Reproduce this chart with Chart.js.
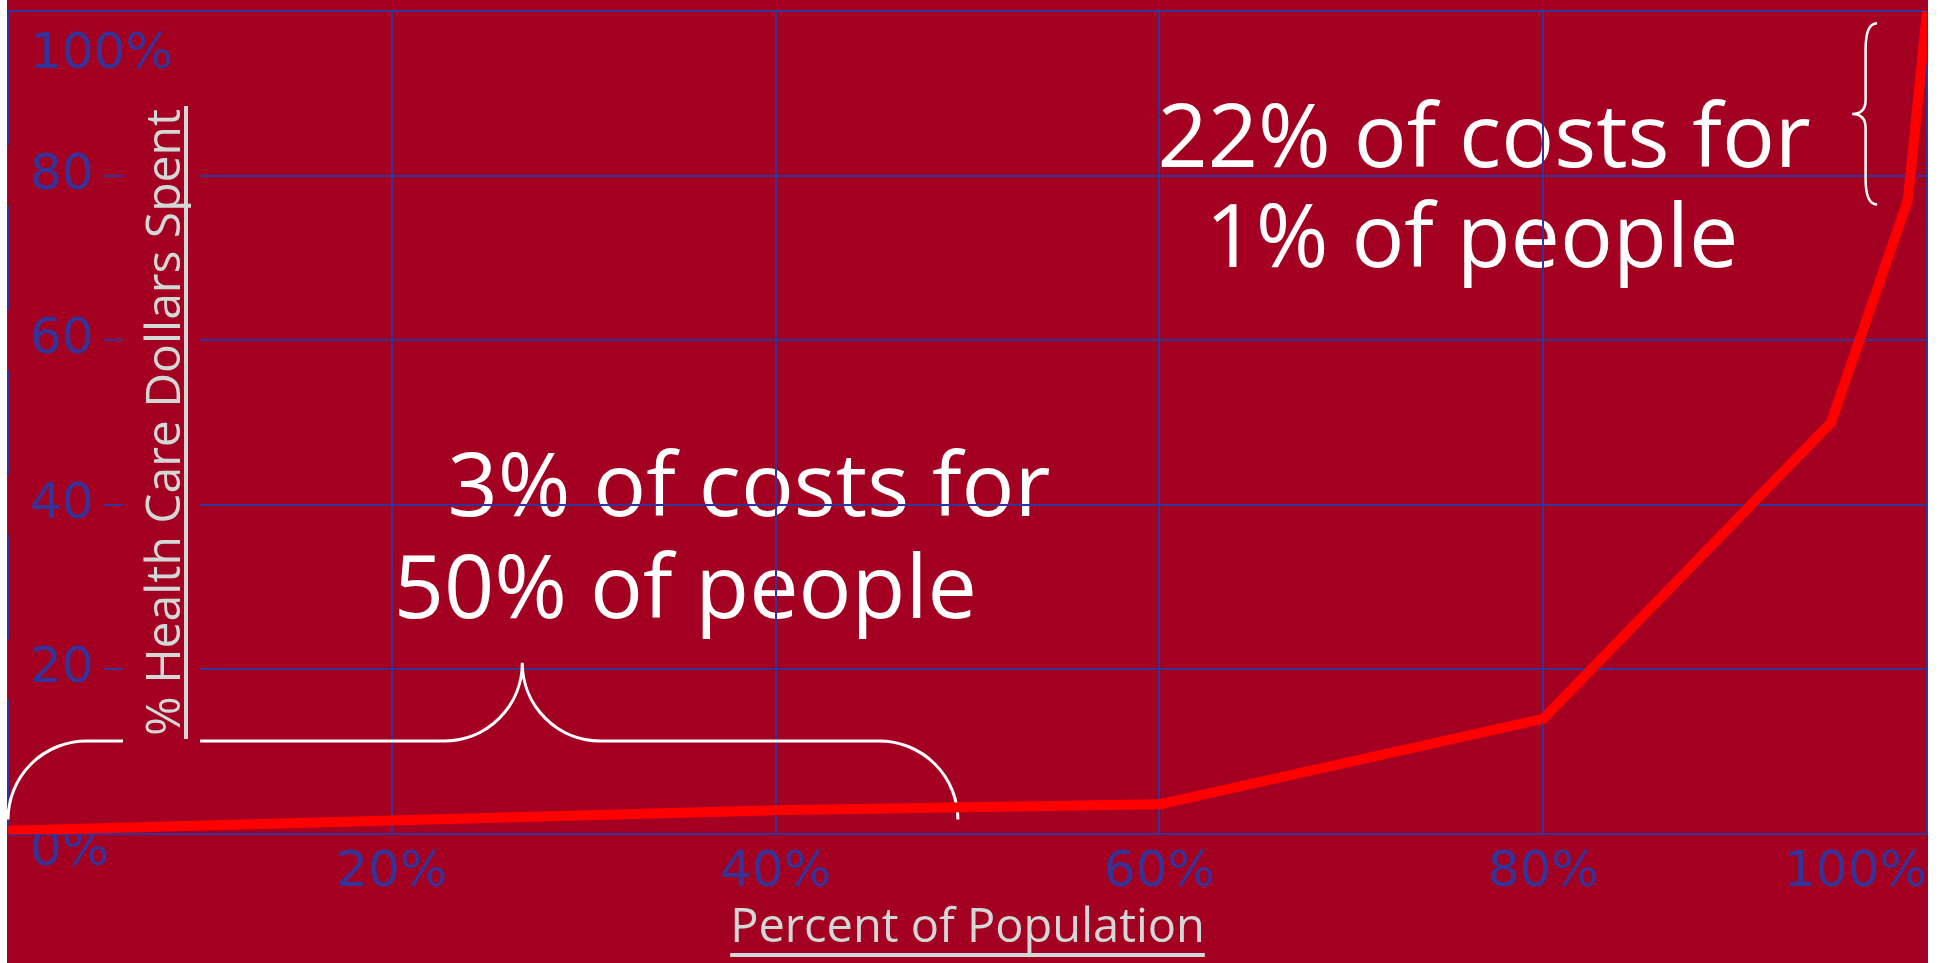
<!DOCTYPE html>
<html>
<head>
<meta charset="utf-8">
<script src="https://cdn.jsdelivr.net/npm/chart.js@4/dist/chart.umd.min.js"></script>
<style>
  html, body { margin: 0; padding: 0; background: #ffffff; overflow: hidden; }
  #wrap { position: absolute; left: 7px; top: 0; width: 1921px; height: 963px; background: #A40022; }
</style>
</head>
<body>
<div id="wrap"><canvas id="c"></canvas></div>
<script>
// ---- data ----
const populationPct = [0, 40, 60, 80, 95, 99, 100];
const costPct = [0.4, 2.9, 3.6, 14, 50, 77, 100];
const xTickLabels = ['', '20%', '40%', '60%', '80%', '100%'];
const yTickLabels = ['0%', '20', '40', '60', '80', '100%'];
const xTitle = 'Percent of Population';
const yTitle = '% Health Care Dollars Spent';
const noteLines = ['22% of costs for', '1% of people', '3% of costs for', '50% of people'];

// ---- style / layout ----
const BG = '#A40022';
const BLUE = '#333399';
const GRAY = '#D2D8D6';
const WHITE = '#FFFFFF';
const HAND = '"Comic Sans MS", "Open Sans", sans-serif';
const TICKF = '"DejaVu Sans", sans-serif';
// annotation anchors in axis units (left edge, baseline)
const noteAnchors = [
  { x: 59.9, y: 81.0 }, { x: 62.4, y: 68.9 },
  { x: 22.9, y: 38.6 }, { x: 20.1, y: 26.2 }
];
const bottomBrace = { x0: 0, x1: 49.5, tip: 26.8, yEnd: 1.75, yBar: 11.3, yTip: 20.8 };
const rightBrace = { xEnd: 97.4, xMid: 96.8, xTip: 96.1, yTop: 98.5, yTip: 87.5, yBot: 76.5 };

const overlay = {
  id: 'overlay',
  beforeDraw(chart) {
    const { ctx, scales: { x, y } } = chart;
    ctx.save();
    ctx.fillStyle = WHITE;
    ctx.font = '500 88px ' + HAND;
    ctx.textAlign = 'left';
    ctx.textBaseline = 'alphabetic';
    noteLines.forEach((t, i) => {
      ctx.fillText(t, x.getPixelForValue(noteAnchors[i].x), y.getPixelForValue(noteAnchors[i].y));
    });
    ctx.restore();
  },
  beforeDatasetsDraw(chart) {
    const { ctx, chartArea: ca, scales: { x, y } } = chart;
    ctx.save();
    // bottom curly brace
    const b = bottomBrace;
    const X0 = x.getPixelForValue(b.x0), X1 = x.getPixelForValue(b.x1), XT = x.getPixelForValue(b.tip);
    const YE = y.getPixelForValue(b.yEnd), YB = y.getPixelForValue(b.yBar), YT = y.getPixelForValue(b.yTip);
    const r1 = YE - YB, r2 = YB - YT;
    ctx.strokeStyle = WHITE;
    ctx.lineWidth = 3;
    ctx.beginPath();
    ctx.moveTo(X0, YE);
    ctx.arcTo(X0, YB, X0 + r1, YB, r1);
    ctx.lineTo(XT - r2, YB);
    ctx.arcTo(XT, YB, XT, YT, r2);
    ctx.arcTo(XT, YB, XT + r2, YB, r2);
    ctx.lineTo(X1 - r1, YB);
    ctx.arcTo(X1, YB, X1, YE, r1);
    ctx.stroke();
    // right curly brace
    const rb = rightBrace;
    const xe = x.getPixelForValue(rb.xEnd), xm = x.getPixelForValue(rb.xMid), xt = x.getPixelForValue(rb.xTip);
    const yt = y.getPixelForValue(rb.yTop), yp = y.getPixelForValue(rb.yTip), yb = y.getPixelForValue(rb.yBot);
    ctx.lineWidth = 2.5;
    ctx.beginPath();
    ctx.moveTo(xe, yt);
    ctx.quadraticCurveTo(xm, yt, xm, yt + 26);
    ctx.lineTo(xm, yp - 14);
    ctx.quadraticCurveTo(xm, yp, xt, yp);
    ctx.quadraticCurveTo(xm, yp, xm, yp + 14);
    ctx.lineTo(xm, yb - 26);
    ctx.quadraticCurveTo(xm, yb, xe, yb);
    ctx.stroke();
    // y axis title with backdrop and underline bar
    const cy = (ca.top + ca.bottom) / 2;
    const bx = ca.left + 172;
    ctx.font = '500 48px ' + HAND;
    const w = ctx.measureText(yTitle).width;
    ctx.fillStyle = BG;
    ctx.fillRect(bx - 57, cy - w / 2 - 8, 77, w + 16);
    ctx.save();
    ctx.translate(bx, cy);
    ctx.rotate(-Math.PI / 2);
    ctx.textAlign = 'center';
    ctx.textBaseline = 'alphabetic';
    ctx.fillStyle = GRAY;
    ctx.fillText(yTitle, 0, 0);
    ctx.restore();
    ctx.fillStyle = GRAY;
    ctx.fillRect(bx + 4, cy - w / 2 - 3, 4, w + 6);
    ctx.restore();
  },
  afterDraw(chart) {
    const { ctx, chartArea: ca, scales: { x } } = chart;
    ctx.save();
    ctx.font = '500 47px ' + HAND;
    const w = ctx.measureText(xTitle).width;
    const cx = (ca.left + ca.right) / 2;
    ctx.fillStyle = GRAY;
    ctx.fillRect(cx - w / 2, x.bottom - 10, w, 4);
    ctx.restore();
  }
};

new Chart(document.getElementById('c'), {
  type: 'line',
  data: {
    datasets: [{
      data: populationPct.map((p, i) => ({ x: p, y: costPct[i] })),
      borderColor: '#FF0000',
      borderWidth: 10,
      pointRadius: 0,
      tension: 0,
      fill: false,
      borderJoinStyle: 'miter',
      borderCapStyle: 'butt'
    }]
  },
  options: {
    responsive: true,
    maintainAspectRatio: false,
    animation: false,
    events: [],
    layout: { padding: { left: 1, right: 1, top: 11, bottom: 0 } },
    plugins: { legend: { display: false }, tooltip: { enabled: false } },
    scales: {
      x: {
        type: 'linear', position: 'bottom', min: 0, max: 100,
        grid: { color: BLUE, lineWidth: 2, drawTicks: false },
        border: { display: true, color: BLUE, width: 2 },
        ticks: {
          stepSize: 20, align: 'inner', padding: 9, color: BLUE, maxRotation: 0, autoSkip: false,
          font: { family: TICKF, size: 50 },
          callback: (v, i) => xTickLabels[i]
        },
        title: {
          display: true, text: xTitle, color: GRAY,
          font: { family: HAND, size: 47, weight: 500 }, padding: { top: 0, bottom: 6 }
        },
        afterFit(s) { s.height = 129; s.paddingLeft = 0; s.paddingRight = 0; }
      },
      y: {
        min: 0, max: 100,
        grid: { color: BLUE, lineWidth: 2, drawTicks: false },
        border: { display: true, color: BLUE, width: 2 },
        ticks: {
          stepSize: 20, mirror: true, padding: 22, color: BLUE, autoSkip: false,
          font: (c) => ({
            family: TICKF, size: 50,
            lineHeight: c.index === 0 ? 0.72 : (c.index === yTickLabels.length - 1 ? 1.76 : 1.2)
          }),
          callback: (v, i) => (i === 0 || i === yTickLabels.length - 1) ? ['', yTickLabels[i]] : yTickLabels[i],
          showLabelBackdrop: (c) => c.index > 0 && c.index < yTickLabels.length - 1,
          backdropColor: BG,
          backdropPadding: { left: 22, right: 10, top: 0, bottom: 0 }
        },
        afterFit(s) { s.width = 0; s.paddingTop = 0; s.paddingBottom = 0; }
      }
    }
  },
  plugins: [overlay]
});
</script>
</body>
</html>
